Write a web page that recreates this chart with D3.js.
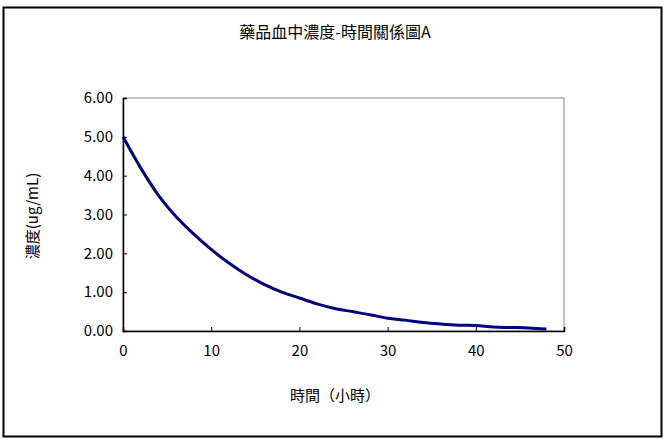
<!DOCTYPE html><html><head><meta charset="utf-8"><script src="https://cdn.jsdelivr.net/npm/d3@7"></script>
<style>body{margin:0;background:#fff}text{font-family:"Noto Sans CJK TC","DejaVu Serif",serif}</style></head><body><svg id="c" width="667" height="440"></svg><script>
const hours=[0,2,4,6,8,10,12,14,16,18,20,22,24,26,28,30,32,34,36,38,40,42,44,46,48];
const conc=[5.0,4.2,3.5,2.95,2.5,2.1,1.75,1.45,1.2,1.0,0.85,0.7,0.58,0.5,0.42,0.33,0.28,0.22,0.18,0.15,0.14,0.1,0.09,0.08,0.05];
const xTicks=[0,10,20,30,40,50];
const yTicks=[0,1,2,3,4,5,6];
const svg=d3.select("#c");
svg.append("rect").attr("x",3.5).attr("y",7.5).attr("width",658).attr("height",429).attr("fill","#fff").attr("stroke","#000").attr("stroke-width",2);
const L=123,R=564,T=98,B=331;
const x=d3.scaleLinear().domain([0,50]).range([L,R]);
const y=d3.scaleLinear().domain([0,6]).range([B,T]);
svg.append("rect").attr("x",L).attr("y",T).attr("width",R-L).attr("height",B-T).attr("fill","none").attr("stroke","#888");
const gx=svg.append("g").attr("transform",`translate(0,${B})`).call(d3.axisBottom(x).tickValues(xTicks).tickSize(-4).tickPadding(14).tickFormat(d3.format("d")));
const gy=svg.append("g").attr("transform",`translate(${L},0)`).call(d3.axisLeft(y).tickValues(yTicks).tickSize(-4).tickPadding(10).tickFormat(d3.format(".2f")));
[gx,gy].forEach(g=>{g.select(".domain").attr("stroke","#000").attr("stroke-width",1.5);g.selectAll("text").attr("font-size",15).attr("fill","#000");});
svg.append("path").datum(hours.map((h,i)=>[h,conc[i]])).attr("fill","none").attr("stroke","#000080").attr("stroke-width",3)
 .attr("d",d3.line().x(d=>x(d[0])).y(d=>y(d[1])).curve(d3.curveMonotoneX));
svg.append("text").attr("x",335).attr("y",38).attr("text-anchor","middle").attr("font-size",16).text("藥品血中濃度-時間關係圖A");
svg.append("text").attr("x",335).attr("y",401).attr("text-anchor","middle").attr("font-size",15).text("時間（小時）");
svg.append("text").attr("transform","translate(38,216) rotate(-90)").attr("text-anchor","middle").attr("font-size",15).text("濃度(ug/mL)");
</script></body></html>
